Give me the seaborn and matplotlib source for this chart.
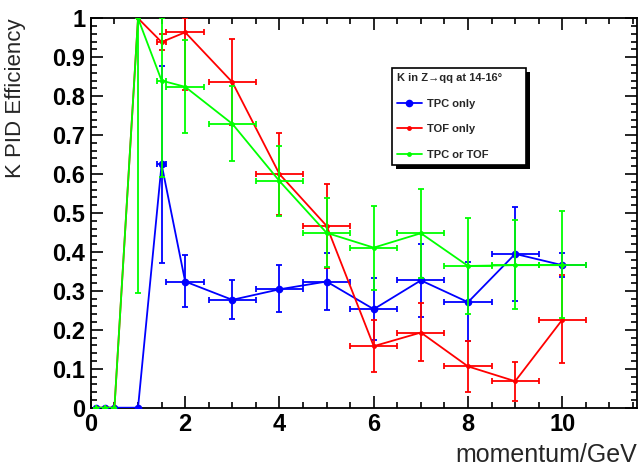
import numpy as np
import pandas as pd
import seaborn as sns
import matplotlib
matplotlib.use("Agg")
import matplotlib.pyplot as plt
from matplotlib.patches import Rectangle
from matplotlib.lines import Line2D
from matplotlib.ticker import MultipleLocator, FuncFormatter

# Momentum bins (GeV) and half-widths
momentum = [0.1, 0.3, 0.5, 1.0, 1.5, 2.0, 3.0, 4.0, 5.0, 6.0, 7.0, 8.0, 9.0, 10.0]
half_width = [0, 0, 0, 0, 0.1, 0.4, 0.5, 0.5, 0.5, 0.5, 0.5, 0.5, 0.5, 0.5]

# K identification efficiency, with asymmetric errors
tpc_eff = [0, 0, 0, 0, 0.625, 0.324, 0.277, 0.304, 0.324, 0.253, 0.327, 0.271, 0.395, 0.366]
tpc_up = [0, 0, 0, 0, 0.253, 0.068, 0.051, 0.063, 0.072, 0.081, 0.093, 0.104, 0.121, 0.03]
tpc_dn = [0, 0, 0, 0, 0.253, 0.066, 0.049, 0.058, 0.073, 0.080, 0.095, 0.100, 0.120, 0.03]

tof_eff = [0, 0, 0, 1.0, 0.939, 0.964, 0.836, 0.600, 0.467, 0.158, 0.193, 0.106, 0.068, 0.226]
tof_up = [0, 0, 0, 0, 0.02, 0.036, 0.111, 0.105, 0.107, 0.067, 0.076, 0.065, 0.049, 0.115]
tof_dn = [0, 0, 0, 0, 0.02, 0.148, 0.111, 0.105, 0.107, 0.066, 0.073, 0.066, 0.050, 0.112]

both_eff = [0, 0, 0, 1.0, 0.840, 0.824, 0.729, 0.582, 0.449, 0.411, 0.448, 0.364, 0.366, 0.366]
both_up = [0, 0, 0, 0, 0.160, 0.119, 0.097, 0.091, 0.090, 0.108, 0.114, 0.124, 0.117, 0.140]
both_dn = [0, 0, 0, 0.705, 0.247, 0.118, 0.095, 0.090, 0.087, 0.109, 0.114, 0.123, 0.113, 0.135]

series = [
    ("TPC only", tpc_eff, tpc_up, tpc_dn, "#0000ff", 5.5),
    ("TOF only", tof_eff, tof_up, tof_dn, "#ff0000", 3.5),
    ("TPC or TOF", both_eff, both_up, both_dn, "#00ff00", 3.5),
]

sns.set_theme(style="ticks")
plt.rcParams["font.family"] = ["Liberation Sans", "DejaVu Sans"]

fig = plt.figure(figsize=(6.4, 4.69), dpi=100)
ax = fig.add_axes([0.142, 0.1307, 0.853, 0.8303])

frames = []
for name, eff, up, dn, col, ms in series:
    frames.append(pd.DataFrame({"p": momentum, "eff": eff, "series": name}))
df = pd.concat(frames, ignore_index=True)

for z, (name, eff, up, dn, col, ms) in enumerate(series):
    ax.errorbar(momentum, eff, yerr=[dn, up], xerr=half_width, fmt="none",
                ecolor=col, elinewidth=1.3, capsize=2, capthick=1.3,
                zorder=2 + 2 * z)
    sns.lineplot(data=df[df["series"] == name], x="p", y="eff", ax=ax,
                 color=col, linewidth=1.3, marker="o", markersize=ms,
                 markeredgewidth=0, estimator=None, sort=False,
                 legend=False, zorder=3 + 2 * z)

ax.set_xlim(0, 11.58)
ax.set_ylim(0, 1.0)

ax.xaxis.set_major_locator(MultipleLocator(2))
ax.xaxis.set_minor_locator(MultipleLocator(0.5))
ax.yaxis.set_major_locator(MultipleLocator(0.1))
ax.yaxis.set_minor_locator(MultipleLocator(0.02))
ax.yaxis.set_major_formatter(FuncFormatter(
    lambda v, _: "0" if abs(v) < 1e-9 else ("1" if abs(v - 1) < 1e-9 else f"{v:.1f}")))
ax.xaxis.set_major_formatter(FuncFormatter(lambda v, _: f"{v:.0f}"))

ax.tick_params(which="both", direction="in", top=True, right=True,
               width=1.2, colors="black")
ax.tick_params(which="major", length=8.5, labelsize=17, pad=4)
ax.tick_params(which="minor", length=4.3)
for lab in ax.get_xticklabels() + ax.get_yticklabels():
    lab.set_fontweight("bold")
for sp in ax.spines.values():
    sp.set_linewidth(1.3)
    sp.set_color("black")

ax.set_xlabel("momentum/GeV", fontsize=18, loc="right", labelpad=5)
ax.set_ylabel("K PID Efficiency", fontsize=16, loc="top", labelpad=19)

handles = [Line2D([0], [0], color=col, lw=1.3, marker="o", markersize=ms,
                  markeredgewidth=0) for name, eff, up, dn, col, ms in series]
labels = [s[0] for s in series]
leg = ax.legend(handles, labels, title="K in Z\u2192qq at 14-16\u00b0",
                loc="upper left", bbox_to_anchor=(0.551, 0.626, 0.246, 0.246),
                mode="expand",
                prop={"weight": "bold", "size": 8},
                title_fontproperties={"weight": "bold", "size": 8},
                frameon=True, fancybox=False, edgecolor="black",
                framealpha=1, handlelength=2.3, handletextpad=0.4,
                labelspacing=1.4, borderpad=0.45, borderaxespad=0)
leg._legend_box.align = "left"
leg.get_frame().set_linewidth(1.2)
leg.set_zorder(20)

fig.canvas.draw()
bb = leg.get_window_extent().transformed(fig.transFigure.inverted())
shadow = Rectangle((bb.x0 + 4 / 640, bb.y0 - 4 / 469), bb.width, bb.height,
                   transform=fig.transFigure, facecolor="black",
                   edgecolor="none", zorder=19, clip_on=False)
ax.add_patch(shadow)

fig.savefig("out.png", dpi=100)
